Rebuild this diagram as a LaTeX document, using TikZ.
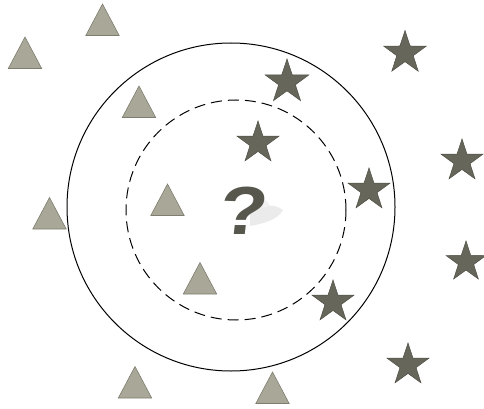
\documentclass[tikz,border=0pt]{standalone}
\usepackage{fontspec}
\setmainfont{Liberation Sans}
\usetikzlibrary{shapes.geometric}
\definecolor{trifill}{HTML}{A9A797}
\definecolor{triedge}{HTML}{7F7D6F}
\definecolor{starfill}{HTML}{66665A}
\definecolor{staredge}{HTML}{4E4E44}
\definecolor{qcol}{HTML}{57574D}
\begin{document}
\begin{tikzpicture}[x=1pt,y=-1pt,
  tri/.style={fill=trifill,draw=triedge,line width=0.6pt},
  starnode/.style={star,star points=5,star point ratio=2.6,fill=starfill,draw=staredge,line width=0.5pt,inner sep=0pt,minimum size=#1},
  pics/tri/.style={code={\draw[tri] (0,0) -- (16.7,31.5) -- (-16.7,31.5) -- cycle;}},
  ring/.style={draw=black,line width=1pt},
  dashring/.style={draw=black,line width=1pt,dash pattern=on 11pt off 6pt},
  qshade/.style={fill=black!8,draw=none}]
\useasboundingbox (0,0) rectangle (484,409);
% circles
\node[ring,circle,minimum size=328pt,inner sep=0pt] (outer) at (231,207) {};
\node[dashring,circle,minimum size=220pt,inner sep=0pt] (inner) at (236,210) {};
% triangles
\pic (t1) at (25,37) {tri};
\pic (t2) at (102.5,4) {tri};
\pic (t3) at (139,86) {tri};
\pic (t4) at (49.5,197.5) {tri};
\pic (t5) at (167.5,184) {tri};
\pic (t6) at (200,262.5) {tri};
\pic (t7) at (135,366.5) {tri};
\pic (t8) at (272.5,372) {tri};
% stars
\node[starnode=46pt] (s1) at (287,82) {};
\node[starnode=45pt] (s2) at (405,53) {};
\node[starnode=44pt] (s3) at (258,143) {};
\node[starnode=44pt] (s4) at (462,161) {};
\node[starnode=44pt] (s5) at (369,190) {};
\node[starnode=42pt] (s6) at (466,262) {};
\node[starnode=44pt] (s7) at (333,302) {};
\node[starnode=44pt] (s8) at (408,365) {};
% question mark shadow
\fill[qshade] (250,214) .. controls (262,203) and (275,204) .. (283,210)
  .. controls (278,220) and (262,224) .. (250,226) -- cycle;
\fill[black!5] (252,200) .. controls (262,197) and (268,200) .. (270,206)
  .. controls (262,208) and (256,208) .. (252,206) -- cycle;
% question mark
\node[text=qcol,font=\bfseries\fontsize{68}{68}\selectfont,xscale=1.15,xslant=0.1,inner sep=0pt] (q) at (244,211) {?};
\end{tikzpicture}
\end{document}
